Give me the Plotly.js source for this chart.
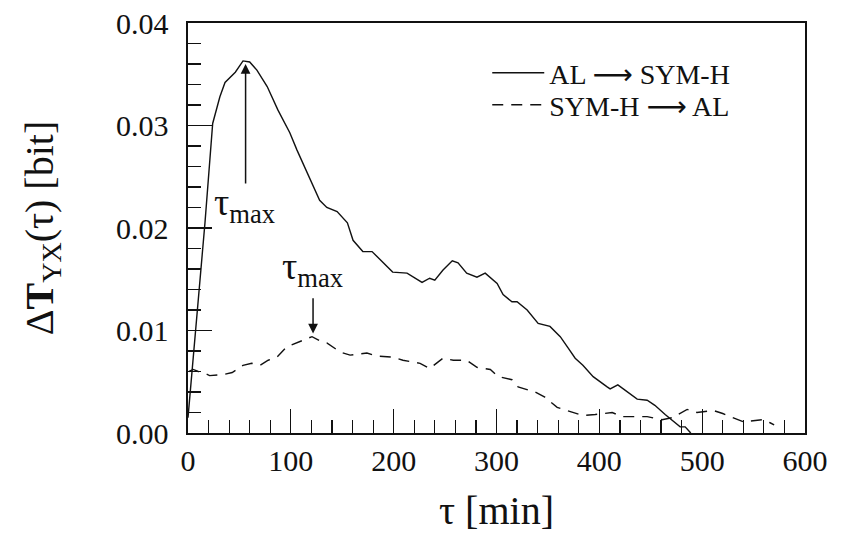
<!DOCTYPE html>
<html>
<head>
<meta charset="utf-8">
<script src="https://cdn.plot.ly/plotly-3.0.1.min.js"></script>
<style>html,body{margin:0;padding:0;background:#fff;}#chart{width:842px;height:534px;}</style>
</head>
<body>
<div id="chart"></div>
<script>
// AL -> SYM-H (solid)
const tauSolid = [0, 16.5, 24, 31, 36, 46, 53.5, 60, 67, 77, 87.5, 99, 106, 116, 128, 135, 145, 155, 160.5, 170, 179, 187, 199, 213, 227.6, 235, 240, 248, 257, 262.6, 271, 281, 289, 300.6, 306.4, 315, 320, 329.8, 340.5, 352, 362, 369.6, 376.5, 384, 394, 407.6, 410.5, 418, 427, 436.8, 446.5, 454, 464, 472, 478.6, 483.5, 488, 492];
const dtSolid = [0.0015, 0.0205, 0.0302, 0.0328, 0.0342, 0.0352, 0.0363, 0.0362, 0.0354, 0.0338, 0.0315, 0.0293, 0.0276, 0.0254, 0.0227, 0.0220, 0.0216, 0.0205, 0.0188, 0.0177, 0.0177, 0.0169, 0.0157, 0.0156, 0.0147, 0.0151, 0.0149, 0.0159, 0.0168, 0.0166, 0.0156, 0.0152, 0.0156, 0.0146, 0.0135, 0.0128, 0.0128, 0.0120, 0.0107, 0.0104, 0.0094, 0.0083, 0.0073, 0.0066, 0.0055, 0.0045, 0.0043, 0.0047, 0.0040, 0.0033, 0.0032, 0.0027, 0.0018, 0.0011, 0.0006, 0.0006, 0.0001, -0.0005];
// SYM-H -> AL (dashed)
const tauDashed = [1, 5, 10, 14.6, 21, 30, 34, 43, 53.5, 62, 70, 78, 86.6, 96, 109, 120.6, 128, 135, 148, 157.6, 174, 184, 199, 209, 225.7, 235, 248, 258, 271, 281, 294, 301.6, 315, 321, 337.5, 347, 359, 371.6, 384, 396, 412.5, 422, 433, 446.5, 461, 471, 485.4, 495, 510.7, 520, 540, 559, 566, 570];
const dtDashed = [0.0060, 0.0062, 0.0060, 0.0059, 0.0056, 0.0057, 0.0057, 0.0059, 0.0066, 0.0068, 0.0066, 0.0071, 0.0074, 0.0084, 0.0089, 0.0094, 0.0090, 0.0088, 0.0079, 0.0076, 0.0078, 0.0075, 0.0074, 0.0071, 0.0068, 0.0063, 0.0073, 0.0071, 0.0071, 0.0064, 0.0062, 0.0055, 0.0052, 0.0045, 0.0040, 0.0035, 0.0025, 0.0021, 0.0017, 0.0018, 0.0020, 0.0016, 0.0016, 0.0016, 0.0013, 0.0015, 0.0023, 0.0020, 0.0022, 0.0019, 0.0011, 0.0013, 0.0010, 0.0008];
const arrowGlyph = "<span style=\"font-family:'DejaVu Sans'\">\u27f6</span>";
const seriesNames = ["AL " + arrowGlyph + " SYM-H", "SYM-H " + arrowGlyph + " AL"];
const xTickVals = [0, 100, 200, 300, 400, 500, 600];
const xTickText = ["0", "100", "200", "300", "400", "500", "600"];
const yTickVals = [0, 0.01, 0.02, 0.03, 0.04];
const yTickText = ["0.00", "0.01", "0.02", "0.03", "0.04"];
// peak markers (tau_max)
const peakSolid = {x: 56, y: 0.0360, tailY: 0.0242, labelY: 0.0222};
const peakDashed = {x: 121.6, y: 0.0097, tailY: 0.0133, labelY: 0.0160};

const serif = "'Liberation Serif', serif";

const traces = [
  {x: tauSolid, y: dtSolid, name: seriesNames[0], type: "scatter", mode: "lines",
   legend: "legend", line: {color: "#111", width: 1.4, dash: "solid"}},
  {x: tauDashed, y: dtDashed, name: seriesNames[1], type: "scatter", mode: "lines",
   legend: "legend2", line: {color: "#111", width: 1.4, dash: "11px,8px"}}
];

const axisCommon = {
  showgrid: false, zeroline: false, showline: true, mirror: true,
  linecolor: "#111", linewidth: 1.6, ticks: "inside", ticklen: 24, tickwidth: 1.2,
  tickcolor: "#111", tickfont: {family: serif, size: 30, color: "#111"}
};

const legendCommon = {xanchor: "left", yanchor: "middle", bgcolor: "rgba(0,0,0,0)",
  itemwidth: 52, font: {family: serif, size: 28, color: "#111"}};

const layout = {
  width: 842, height: 534,
  margin: {l: 188, r: 37, t: 23, b: 101},
  paper_bgcolor: "#fff", plot_bgcolor: "#fff",
  showlegend: true,
  legend: Object.assign({}, legendCommon, {x: 0.485, y: 0.878}),
  legend2: Object.assign({}, legendCommon, {x: 0.485, y: 0.800}),
  xaxis: Object.assign({}, axisCommon, {
    range: [0, 600], tickmode: "array", tickvals: xTickVals, ticktext: xTickText,
    minor: {tickmode: "linear", tick0: 0, dtick: 20, ticklen: 13, ticks: "inside", tickwidth: 1.2, tickcolor: "#111"},
    title: {text: "\u03c4 [min]", font: {family: serif, size: 40, color: "#111"}, standoff: 20}
  }),
  yaxis: Object.assign({}, axisCommon, {
    range: [0, 0.04], tickmode: "array", tickvals: yTickVals, ticktext: yTickText,
    ticklabelstandoff: 12,
    minor: {tickmode: "linear", tick0: 0, dtick: 0.002, ticklen: 13, ticks: "inside", tickwidth: 1.2, tickcolor: "#111"},
    title: {text: "\u0394<b>T</b><sub>YX</sub>(\u03c4) [bit]", font: {family: serif, size: 40, color: "#111"}, standoff: 50}
  }),
  annotations: [
    {x: peakSolid.x, y: peakSolid.y, ax: peakSolid.x, ay: peakSolid.tailY, axref: "x", ayref: "y",
     xref: "x", yref: "y", text: "", showarrow: true, arrowhead: 2, arrowsize: 1.3, arrowwidth: 1.5, arrowcolor: "#111"},
    {x: peakSolid.x - 1, y: peakSolid.labelY, xref: "x", yref: "y", showarrow: false,
     text: "\u03c4<sub>max</sub>", font: {family: serif, size: 38, color: "#111"}},
    {x: peakDashed.x, y: peakDashed.y, ax: peakDashed.x, ay: peakDashed.tailY, axref: "x", ayref: "y",
     xref: "x", yref: "y", text: "", showarrow: true, arrowhead: 2, arrowsize: 1.3, arrowwidth: 1.5, arrowcolor: "#111"},
    {x: peakDashed.x - 1, y: peakDashed.labelY, xref: "x", yref: "y", showarrow: false,
     text: "\u03c4<sub>max</sub>", font: {family: serif, size: 38, color: "#111"}}
  ]
};

Plotly.newPlot("chart", traces, layout, {displayModeBar: false, staticPlot: true});
</script>
</body>
</html>
